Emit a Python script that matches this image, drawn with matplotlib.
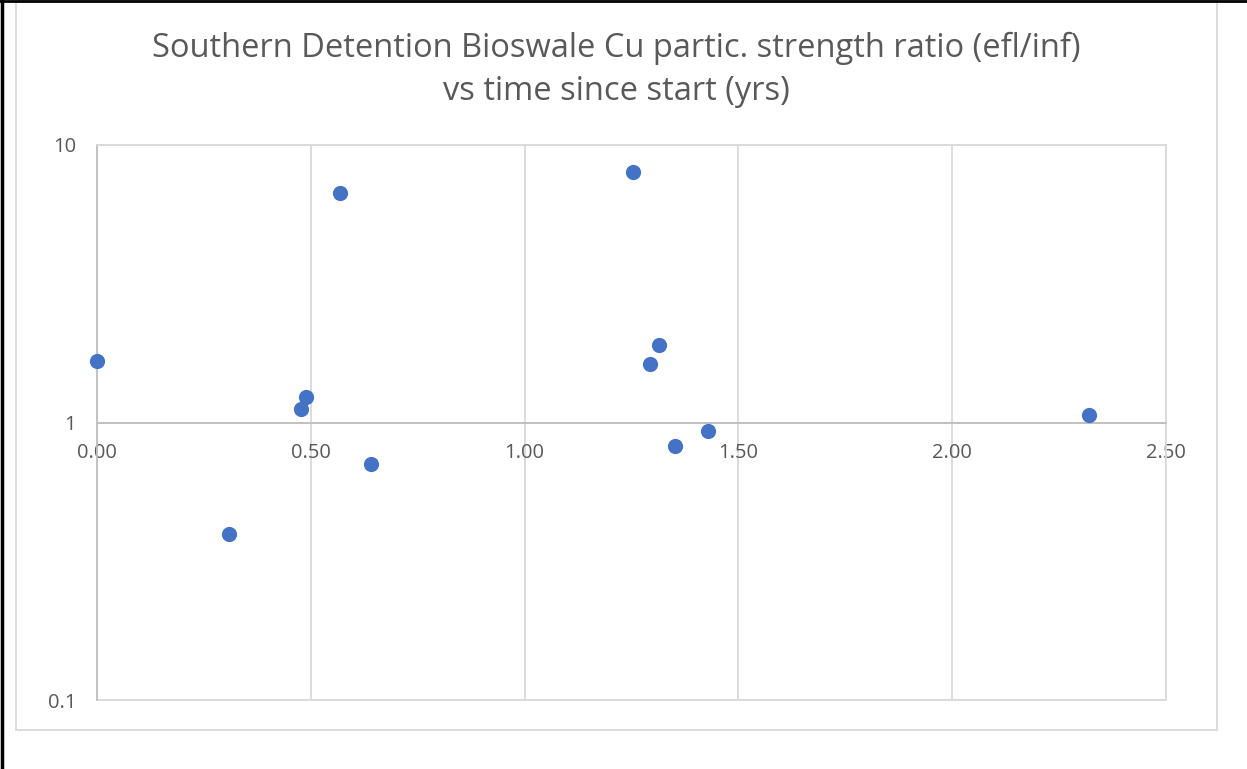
import matplotlib
matplotlib.use("Agg")
import matplotlib.pyplot as plt
from matplotlib.patches import Rectangle
from matplotlib.lines import Line2D
from matplotlib.ticker import FixedLocator, NullLocator

title = "Southern Detention Bioswale Cu partic. strength ratio (efl/inf)\nvs time since start (yrs)"
time_yrs = [0.00, 0.309, 0.477, 0.489, 0.568, 0.641, 1.253, 1.293, 1.314, 1.352, 1.428, 2.320]
ratio = [1.66, 0.395, 1.12, 1.24, 6.74, 0.711, 7.96, 1.62, 1.91, 0.826, 0.933, 1.06]
x_ticks = [0.0, 0.5, 1.0, 1.5, 2.0, 2.5]
x_labels = ["0.00", "0.50", "1.00", "1.50", "2.00", "2.50"]
y_ticks = [0.1, 1, 10]
y_labels = ["0.1", "1", "10"]

W, H = 1247, 769
fig = plt.figure(figsize=(W / 100, H / 100), dpi=100)
fig.patch.set_facecolor("white")
plt.rcParams['font.family'] = ['Open Sans', 'DejaVu Sans']

grid_c = "#d9d9d9"
text_c = "#595959"

# plot area in pixels
L, R, T, B = 97, 1166, 145, 700
ax = fig.add_axes([L / W, 1 - B / H, (R - L) / W, (B - T) / H])
ax.set_xlim(0, 2.5)
ax.set_yscale("log")
ax.set_ylim(0.1, 10)

ax.xaxis.set_major_locator(FixedLocator(x_ticks))
ax.yaxis.set_major_locator(FixedLocator(y_ticks))
ax.xaxis.set_minor_locator(NullLocator())
ax.yaxis.set_minor_locator(NullLocator())
ax.set_xticklabels(x_labels)
ax.set_yticklabels(y_labels)
ax.tick_params(axis="both", length=0, labelsize=14.5, colors=text_c)
ax.tick_params(axis="x", pad=15)
ax.tick_params(axis="y", pad=15)
ax.grid(True, color=grid_c, linewidth=1.3)

for s in ["top", "right", "left"]:
    ax.spines[s].set_color(grid_c)
    ax.spines[s].set_linewidth(1.3)
ax.spines["bottom"].set_position(("data", 1))
ax.spines["bottom"].set_color("#bfbfbf")
ax.spines["bottom"].set_linewidth(1.3)
ax.add_line(Line2D([0, 1], [0, 0], transform=ax.transAxes, color=grid_c, lw=1.3, clip_on=False))
ax.spines["left"].set_color("#bfbfbf")

ax.scatter(time_yrs, ratio, s=120, color="#4472c4", zorder=5, clip_on=False, linewidths=0)

fig.text(616 / W, 1 - 70 / H, title, ha="center", va="center", fontsize=23.5,
         color=text_c, linespacing=1.38)

# chart area border and outer frame
fig.add_artist(Rectangle((16 / W, 1 - 730 / H), (1217 - 16) / W, 730 / H,
                         transform=fig.transFigure, fill=False, edgecolor=grid_c, lw=1.3))
fig.add_artist(Line2D([1.5 / W, 1.5 / W], [0, 1], transform=fig.transFigure, color="black", lw=2.5))
fig.add_artist(Line2D([0, 1], [1 - 1 / H, 1 - 1 / H], transform=fig.transFigure, color="black", lw=2))

fig.savefig("out.png", dpi=100)
